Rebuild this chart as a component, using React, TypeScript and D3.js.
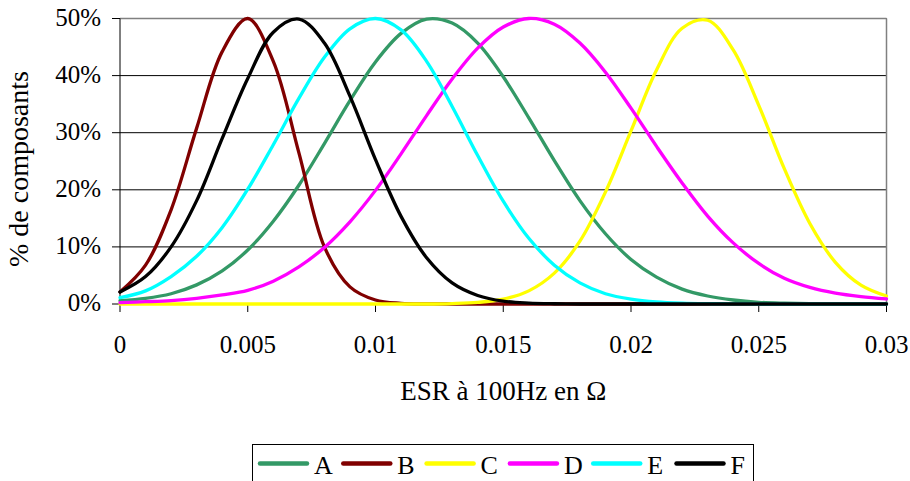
import React from 'react';
import * as d3 from 'd3';

const xValues = [
  0, 0.001, 0.002, 0.003, 0.004, 0.005, 0.006, 0.007, 0.008, 0.009, 0.01,
  0.011, 0.012, 0.013, 0.014, 0.015, 0.016, 0.017, 0.018, 0.019, 0.02,
  0.021, 0.022, 0.023, 0.024, 0.025, 0.026, 0.027, 0.028, 0.029, 0.03,
];

const seriesNames = ['A', 'B', 'C', 'D', 'E', 'F'];
const seriesColors = ['#339966', '#800000', '#FFFF00', '#FF00FF', '#00FFFF', '#000000'];

const valuesA = [0.6, 1.0, 1.8, 3.35, 5.8, 9.45, 14.5, 20.8, 28.1, 35.6, 42.4, 47.4, 49.9, 49.2, 45.7, 39.8, 32.6, 25.1, 18.1, 12.3, 7.8, 4.7, 2.6, 1.4, 0.7, 0.3, 0.14, 0.06, 0.02, 0.01, 0];
const valuesB = [2.1, 6.8, 16.5, 30.8, 44.2, 50, 42.5, 26.5, 10, 3, 0.7, 0.12, 0.02, 0, 0, 0, 0, 0, 0, 0, 0, 0, 0, 0, 0, 0, 0, 0, 0, 0, 0];
const valuesC = [0, 0, 0, 0, 0, 0, 0, 0, 0, 0, 0, 0, 0, 0.08, 0.28, 0.85, 2.3, 5.4, 11.0, 19.6, 30.3, 41.0, 48.3, 49.7, 44.5, 34.8, 23.7, 14.1, 7.3, 3.3, 1.4];
const valuesD = [0.25, 0.4, 0.6, 1.0, 1.6, 2.4, 4.0, 6.5, 9.9, 14.4, 19.9, 26.3, 33.0, 39.4, 44.8, 48.5, 50, 49.0, 45.7, 40.6, 34.3, 27.6, 21.2, 15.4, 10.7, 7.1, 4.5, 2.9, 1.9, 1.3, 0.9];
const valuesE = [1.1, 2.3, 4.8, 8.35, 13.4, 20.1, 27.9, 36.0, 43.2, 48.2, 50, 48.0, 42.5, 34.6, 26.0, 18.0, 11.5, 6.8, 3.7, 1.8, 0.85, 0.36, 0.14, 0.05, 0.02, 0, 0, 0, 0, 0, 0];
const valuesF = [2.1, 4.8, 10.0, 18.1, 29, 39.5, 47.6, 49.9, 45.7, 36.4, 25.3, 15.35, 8.1, 3.7, 1.5, 0.5, 0.16, 0.04, 0, 0, 0, 0, 0, 0, 0, 0, 0, 0, 0, 0, 0];

const seriesValues = [valuesA, valuesB, valuesC, valuesD, valuesE, valuesF];

const yTicks = [0, 10, 20, 30, 40, 50];
const yTickLabels = ['0%', '10%', '20%', '30%', '40%', '50%'];
const xTicks = [0, 0.005, 0.01, 0.015, 0.02, 0.025, 0.03];
const xTickLabels = ['0', '0.005', '0.01', '0.015', '0.02', '0.025', '0.03'];

const xTitle = 'ESR à 100Hz en Ω';
const yTitle = '% de composants';

const FONT = '"Liberation Serif", "Times New Roman", serif';

export default function App() {
  const W = 910;
  const H = 481;
  const left = 120;
  const right = 886.5;
  const top = 18.5;
  const bottom = 304;

  const x = d3.scaleLinear().domain([0, 0.03]).range([left, right]);
  const y = d3.scaleLinear().domain([0, 50]).range([bottom, top]);

  const line = d3
    .line<number>()
    .x((_, i) => x(xValues[i]))
    .y((d) => y(d))
    .curve(d3.curveCatmullRom.alpha(0.5));

  const legendX0 = 259;
  const legendStep = 83.3;
  const legendY = 463.5;

  return (
    <svg
      width={W}
      height={H}
      viewBox={`0 0 ${W} ${H}`}
      style={{ position: 'absolute', left: 0, top: 0, display: 'block', background: '#fff' }}
      fontFamily={FONT}
    >
      <rect x={0} y={0} width={W} height={H} fill="#fff" />
      {/* gridlines */}
      {yTicks.map((t) => (
        <line key={'g' + t} x1={left} x2={right} y1={y(t)} y2={y(t)} stroke="#000" strokeWidth={1} />
      ))}
      {/* plot border top/right */}
      <line x1={left} x2={right} y1={top} y2={top} stroke="#808080" strokeWidth={1.5} />
      <line x1={right} x2={right} y1={top} y2={bottom} stroke="#808080" strokeWidth={1.5} />

      {/* axes */}
      <line x1={left} x2={left} y1={top} y2={bottom} stroke="#000" strokeWidth={1} />
      <line x1={left} x2={right} y1={bottom} y2={bottom} stroke="#000" strokeWidth={1} />
      {yTicks.map((t, i) => (
        <g key={'yt' + t}>
          <line x1={left - 8} x2={left} y1={y(t)} y2={y(t)} stroke="#000" strokeWidth={1} />
          <text x={101} y={y(t) + 7} textAnchor="end" fontSize={25} fill="#000">
            {yTickLabels[i]}
          </text>
        </g>
      ))}
      {xTicks.map((t, i) => (
        <g key={'xt' + t}>
          <line x1={x(t)} x2={x(t)} y1={bottom} y2={bottom + 8} stroke="#000" strokeWidth={1} />
          <text x={x(t)} y={353} textAnchor="middle" fontSize={25} fill="#000">
            {xTickLabels[i]}
          </text>
        </g>
      ))}

      {/* series */}
      {seriesValues.map((vals, i) => (
        <path
          key={'s' + i}
          d={line(vals) || ''}
          fill="none"
          stroke={seriesColors[i]}
          strokeWidth={3.3}
          strokeLinejoin="round"
          strokeLinecap="round"
        />
      ))}

      {/* axis titles */}
      <text x={(left + right) / 2} y={400} textAnchor="middle" fontSize={27} fill="#000">
        {xTitle}
      </text>
      <text
        transform={`translate(27.5, 169) rotate(-90)`}
        textAnchor="middle"
        fontSize={28}
        fill="#000"
      >
        {yTitle}
      </text>

      {/* legend */}
      <rect x={252.5} y={444.5} width={501} height={50} fill="none" stroke="#000" strokeWidth={1} />
      {seriesNames.map((name, i) => {
        const lx = legendX0 + i * legendStep;
        return (
          <g key={'l' + name}>
            <line
              x1={lx + 1}
              x2={lx + 48}
              y1={legendY}
              y2={legendY}
              stroke={seriesColors[i]}
              strokeWidth={4.5}
              strokeLinecap="round"
            />
            <text x={lx + 55} y={473.5} fontSize={26} fill="#000">
              {name}
            </text>
          </g>
        );
      })}
    </svg>
  );
}
